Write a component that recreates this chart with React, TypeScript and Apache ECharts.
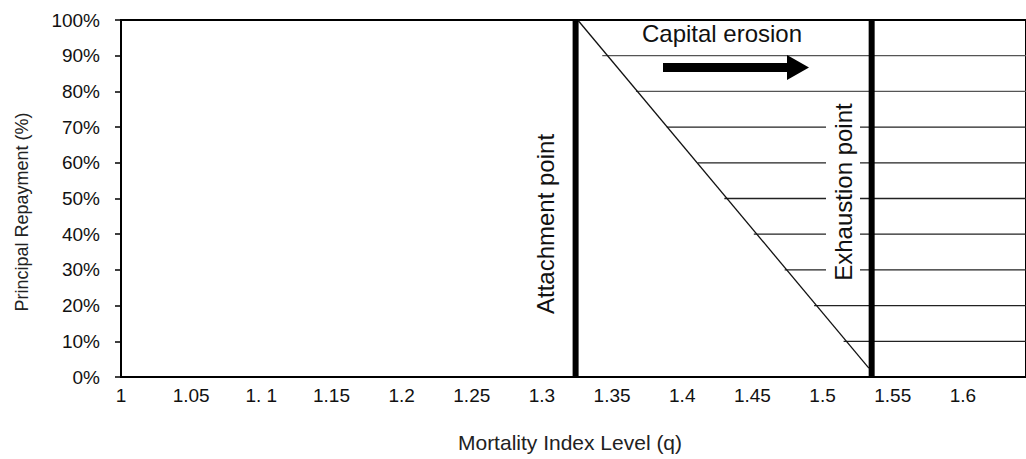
import React, { useEffect, useRef } from "react";
import * as echarts from "echarts";

const xTickLabels = ["1", "1.05", "1. 1", "1.15", "1.2", "1.25", "1.3", "1.35", "1.4", "1.45", "1.5", "1.55", "1.6"];
const xMin = 1;
const xMax = 1.645;
const xStep = 0.05;
const yTicks = [0, 10, 20, 30, 40, 50, 60, 70, 80, 90, 100];

const attachmentPoint = 1.324;
const exhaustionPoint = 1.535;
const diagonalStart = [1.3255, 100];
const diagonalEnd = [1.533, 2.5];

const hatchLevels = [90, 80, 70, 60, 50, 40, 30, 20, 10];
const hatchStarts = [1.343, 1.367, 1.389, 1.411, 1.43, 1.451, 1.473, 1.494, 1.515];

const FONT = "Liberation Sans, Arial, Helvetica, sans-serif";

export default function App() {
  const ref = useRef<HTMLDivElement>(null);
  useEffect(() => {
    if (!ref.current) return;
    const chart = echarts.init(ref.current, undefined, { renderer: "svg" });
    const series: any[] = [];
    hatchLevels.forEach((lv, i) => {
      series.push({
        type: "line",
        data: [[hatchStarts[i], lv], [xMax, lv]],
        symbol: "none",
        silent: true,
        lineStyle: { color: i < 2 ? "#555" : "#222", width: 1.3 },
        z: 2,
      });
    });
    series.push({
      type: "line",
      data: [diagonalStart, diagonalEnd],
      symbol: "none",
      silent: true,
      lineStyle: { color: "#111", width: 1.3 },
      z: 3,
    });
    [attachmentPoint, exhaustionPoint].forEach((p) => {
      series.push({
        type: "line",
        data: [[p, 0], [p, 100]],
        symbol: "none",
        silent: true,
        lineStyle: { color: "#000", width: 6 },
        z: 4,
      });
    });

    chart.setOption({
      animation: false,
      backgroundColor: "#fff",
      grid: {
        left: 121,
        top: 20,
        width: 910,
        height: 357,
        show: true,
        borderColor: "#000",
        borderWidth: 2,
        containLabel: false,
      },
      xAxis: {
        type: "value",
        min: xMin,
        max: xMax,
        interval: xStep,
        axisLine: { show: true, onZero: false, lineStyle: { color: "#000", width: 2 } },
        axisTick: { show: false },
        splitLine: { show: false },
        axisLabel: {
          color: "#111",
          fontFamily: FONT,
          fontSize: 19,
          margin: 9,
          showMaxLabel: false,
          formatter: (v: number) => {
            const idx = Math.round((v - xMin) / xStep);
            return xTickLabels[idx] ?? "";
          },
        },
      },
      yAxis: {
        type: "value",
        min: yTicks[0],
        max: yTicks[yTicks.length - 1],
        interval: 10,
        axisLine: { show: true, lineStyle: { color: "#000", width: 2 } },
        axisTick: { show: true, length: 6, lineStyle: { color: "#000", width: 1.5 } },
        splitLine: { show: false },
        axisLabel: {
          color: "#111",
          fontFamily: FONT,
          fontSize: 19,
          margin: 21,
          formatter: "{value}%",
        },
      },
      series,
      graphic: [
        {
          type: "text",
          x: 22,
          y: 212,
          rotation: Math.PI / 2,
          z: 100,
          style: {
            text: "Principal Repayment (%)",
            font: `18px ${FONT}`,
            fill: "#222",
            align: "center",
            verticalAlign: "middle",
          },
        },
        {
          type: "text",
          x: 570,
          y: 442,
          z: 100,
          style: {
            text: "Mortality Index Level (q)",
            font: `21px ${FONT}`,
            fill: "#222",
            align: "center",
            verticalAlign: "middle",
          },
        },
        {
          type: "text",
          x: 545,
          y: 224,
          rotation: Math.PI / 2,
          z: 100,
          style: {
            text: "Attachment point",
            font: `24px ${FONT}`,
            fill: "#111",
            align: "center",
            verticalAlign: "middle",
          },
        },
        {
          type: "text",
          x: 843,
          y: 192,
          rotation: Math.PI / 2,
          z: 100,
          style: {
            text: "Exhaustion point",
            font: `24px ${FONT}`,
            fill: "#111",
            align: "center",
            verticalAlign: "middle",
            backgroundColor: "#fff",
            padding: [5, 3],
          },
        },
        {
          type: "text",
          x: 722,
          y: 33,
          z: 100,
          style: {
            text: "Capital erosion",
            font: `24px ${FONT}`,
            fill: "#111",
            align: "center",
            verticalAlign: "middle",
          },
        },
        {
          type: "polygon",
          z: 100,
          shape: {
            points: [
              [663, 63],
              [787, 63],
              [787, 55],
              [809, 67.5],
              [787, 80],
              [787, 72],
              [663, 72],
            ],
          },
          style: { fill: "#000" },
        },
      ],
    });
    return () => chart.dispose();
  }, []);
  return (
    <div
      ref={ref}
      style={{ position: "absolute", left: 0, top: 0, width: 1026, height: 459, background: "#fff" }}
    />
  );
}
